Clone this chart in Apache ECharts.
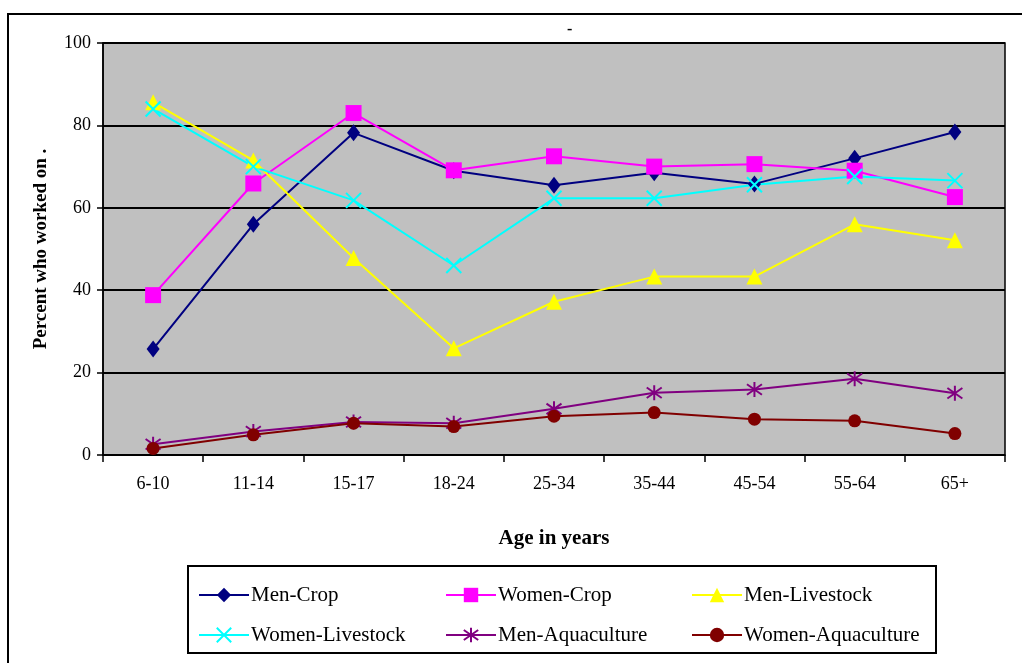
<!DOCTYPE html>
<html>
<head>
<meta charset="utf-8">
<script src="https://cdn.jsdelivr.net/npm/echarts@6/dist/echarts.min.js"></script>
<style>
  html, body { margin: 0; padding: 0; background: #ffffff; }
  #chart { width: 1022px; height: 663px; }
</style>
</head>
<body>
<div id="chart"></div>
<script>
// Age groups on the x axis
const ageGroups = ['6-10', '11-14', '15-17', '18-24', '25-34', '35-44', '45-54', '55-64', '65+'];

// Percent who worked on each activity, by age group
const menCrop           = [25.7, 56.0, 78.2, 69.0, 65.5, 68.5, 65.8, 72.0, 78.4];
const womenCrop         = [38.8, 65.9, 83.0, 69.1, 72.5, 70.0, 70.6, 69.0, 62.6];
const menLivestock      = [85.6, 71.5, 47.8, 25.9, 37.2, 43.3, 43.3, 56.0, 52.1];
const womenLivestock    = [84.0, 70.0, 61.8, 46.0, 62.3, 62.3, 65.6, 67.6, 66.6];
const menAquaculture    = [2.6, 5.7, 8.0, 7.7, 11.2, 15.1, 15.9, 18.5, 15.0];
const womenAquaculture  = [1.6, 4.9, 7.7, 6.9, 9.4, 10.3, 8.7, 8.3, 5.2];

const yTicks = { min: 0, max: 100, step: 20 };

const serif = '"Liberation Serif", "Times New Roman", serif';

const X_SYMBOL = 'path://M0,0L10,10M0,10L10,0';
const STAR_SYMBOL = 'path://M5,0L5,10M0,1.5L10,8.5M0,8.5L10,1.5';

function lineSeries(name, data, color, symbol, size, stroked) {
  return {
    name: name,
    type: 'line',
    data: data,
    symbol: symbol,
    symbolSize: size,
    showAllSymbol: true,
    lineStyle: { color: color, width: 2 },
    itemStyle: stroked
      ? { color: 'rgba(0,0,0,0)', borderColor: color, borderWidth: 2 }
      : { color: color, borderColor: color, borderWidth: 0 },
    emphasis: { disabled: true },
    animation: false
  };
}

const series = [
  lineSeries('Men-Crop', menCrop, '#000080', 'diamond', [13, 17], false),
  lineSeries('Women-Crop', womenCrop, '#FF00FF', 'rect', 16, false),
  lineSeries('Men-Livestock', menLivestock, '#FFFF00', 'triangle', 16, false),
  lineSeries('Women-Livestock', womenLivestock, '#00FFFF', X_SYMBOL, 15, true),
  lineSeries('Men-Aquaculture', menAquaculture, '#800080', STAR_SYMBOL, 15, true),
  lineSeries('Women-Aquaculture', womenAquaculture, '#800000', 'circle', 13, false)
];

// Legend laid out as a 3 x 2 block inside a framed box
const legendSlots = [
  { left: 193, top: 578 }, { left: 440, top: 578 }, { left: 686, top: 578 },
  { left: 193, top: 618 }, { left: 440, top: 618 }, { left: 686, top: 618 }
];
const legendOrder = ['Men-Crop', 'Women-Crop', 'Men-Livestock',
                     'Women-Livestock', 'Men-Aquaculture', 'Women-Aquaculture'];
const legends = legendOrder.map(function (name, i) {
  return {
    data: [name],
    left: legendSlots[i].left,
    top: legendSlots[i].top,
    orient: 'horizontal',
    itemWidth: 50,
    itemHeight: 18,
    itemGap: 0,
    selectedMode: false,
    textStyle: { fontFamily: serif, fontSize: 21, color: '#000', lineHeight: 24, padding: [0, 0, 0, -3] }
  };
});

const chart = echarts.init(document.getElementById('chart'), null, { renderer: 'canvas' });

chart.setOption({
  backgroundColor: '#ffffff',
  animation: false,
  title: {
    text: '-',
    left: 562,
    top: 17,
    textStyle: { fontFamily: serif, fontSize: 16, fontWeight: 'bold', color: '#000' }
  },
  legend: legends,
  grid: {
    left: 103,
    right: 17,
    top: 43,
    bottom: 208,
    show: true,
    backgroundColor: '#C0C0C0',
    borderColor: '#000',
    borderWidth: 1.5
  },
  xAxis: {
    type: 'category',
    data: ageGroups,
    boundaryGap: true,
    name: 'Age in years',
    nameLocation: 'middle',
    nameGap: 73,
    nameTextStyle: { fontFamily: serif, fontSize: 21, fontWeight: 'bold', color: '#000' },
    axisLine: { show: true, lineStyle: { color: '#000', width: 1.5 } },
    axisTick: { show: true, inside: false, length: 7, lineStyle: { color: '#000', width: 1.5 } },
    axisLabel: { fontFamily: serif, fontSize: 18, color: '#000', margin: 20 },
    splitLine: { show: false }
  },
  yAxis: {
    type: 'value',
    min: yTicks.min,
    max: yTicks.max,
    interval: yTicks.step,
    name: 'Percent who worked on .',
    nameLocation: 'middle',
    nameGap: 52,
    nameTextStyle: { fontFamily: serif, fontSize: 19, fontWeight: 'bold', color: '#000' },
    axisLine: { show: true, lineStyle: { color: '#000', width: 1.5 } },
    axisTick: { show: true, inside: false, length: 6, lineStyle: { color: '#000', width: 1.5 } },
    axisLabel: { fontFamily: serif, fontSize: 18, color: '#000', margin: 12 },
    splitLine: { show: true, lineStyle: { color: '#000', width: 2 } }
  },
  graphic: [
    {
      type: 'rect',
      shape: { x: 8, y: 14, width: 1030, height: 670 },
      style: { fill: null, stroke: '#000', lineWidth: 2 },
      silent: true,
      z: -1
    },
    {
      type: 'rect',
      shape: { x: 188, y: 566, width: 748, height: 87 },
      style: { fill: null, stroke: '#000', lineWidth: 2 },
      silent: true,
      z: -1
    }
  ],
  series: series
});
</script>
</body>
</html>
